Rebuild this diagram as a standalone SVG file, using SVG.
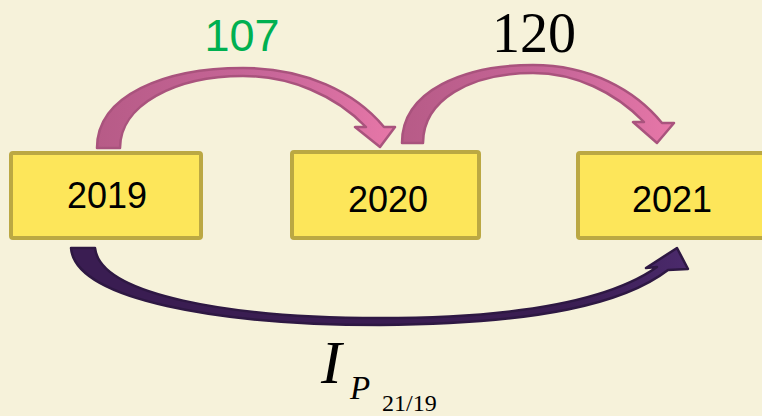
<svg xmlns="http://www.w3.org/2000/svg" width="762" height="416" viewBox="0 0 762 416">
<defs>
<style>
.box{fill:#fde65a;stroke:#bba843;stroke-width:4}
.yr{font-family:"Liberation Sans",Arial,sans-serif;font-size:36px;fill:#000;text-anchor:middle}
.pink{stroke:#a9537d;stroke-width:2.5;stroke-linejoin:round}
.tm{font-family:"Liberation Serif","Times New Roman",serif;fill:#000}
</style>
<linearGradient id="gp" x1="0" y1="0" x2="1" y2="0">
<stop offset="0" stop-color="#b75b87"/>
<stop offset="0.6" stop-color="#c9679a"/>
<stop offset="1" stop-color="#e777a8"/>
</linearGradient>
<linearGradient id="gd" x1="0" y1="0" x2="1" y2="0">
<stop offset="0" stop-color="#3a1d52"/>
<stop offset="0.8" stop-color="#3a1d52"/>
<stop offset="1" stop-color="#4b2a6c"/>
</linearGradient>
</defs>
<rect width="762" height="416" fill="#f6f2da"/>
<g id="connectors">
<path class="pink" fill="url(#gp)" d="M 97,148 C 97,95 165,68 243,68 C 305,68 355,92 384,127 L 395,127 L 380,147 L 355,127 L 366,127 C 335,95 290,76 243,76 C 175,76 120,105 120,148 Z"/>
<path class="pink" fill="url(#gp)" d="M 402,143 C 402,90 465,65 533,65 C 590,65 635,90 662,123 L 674,123 L 657,143 L 633,122 L 644,122 C 615,92 575,73 533,73 C 470,73 423,100 423,143 Z"/>
<path fill="url(#gd)" stroke="#2e1843" stroke-width="2.5" stroke-linejoin="round" d="M 71,248 C 75,300 220,325 380,325 C 540,324 625,303 668,270 L 688,269 L 677,248 L 646,268 L 657,267 C 610,300 520,318 380,318 C 230,318 100,295 95,248 Z"/>
</g>
<g id="node-2019">
<rect class="box" x="11" y="153" width="190" height="85" rx="2"/>
<text class="yr" x="107" y="208">2019</text>
</g>
<g id="node-2020">
<rect class="box" x="292" y="152" width="187" height="86" rx="2"/>
<text class="yr" x="388" y="212">2020</text>
</g>
<g id="node-2021">
<rect class="box" x="578" y="153" width="190" height="85" rx="2"/>
<text class="yr" x="672" y="212">2021</text>
</g>
<g id="labels">
<text x="242" y="51" font-family="'Liberation Sans',Arial,sans-serif" font-size="45" fill="#00b050" text-anchor="middle">107</text>
<text class="tm" x="534" y="52" font-size="56" text-anchor="middle">120</text>
<text class="tm" x="321" y="383" font-size="62" font-style="italic">I</text>
<text class="tm" x="350" y="399" font-size="33" font-style="italic">P</text>
<text class="tm" x="382" y="411" font-size="24">21/19</text>
</g>
</svg>
